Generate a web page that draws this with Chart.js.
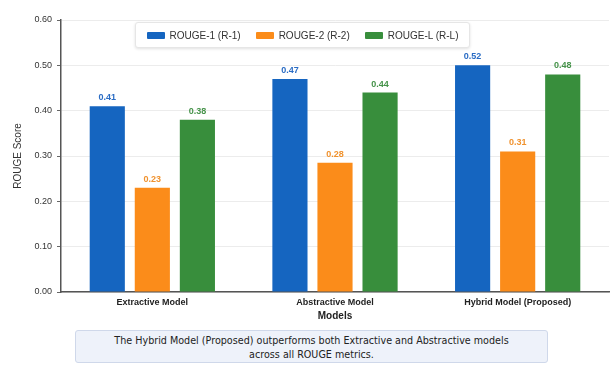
<!DOCTYPE html>
<html>
<head>
<meta charset="utf-8">
<script src="https://cdn.jsdelivr.net/npm/chart.js@4/dist/chart.umd.min.js"></script>
<style>
  html, body { margin: 0; padding: 0; background: #fff; }
  body { width: 611px; height: 370px; position: relative; overflow: hidden;
         font-family: "Liberation Sans", Arial, sans-serif; }
  #wrap { position: absolute; left: 0; top: 0; width: 611px; height: 322px; }
  #legend { position: absolute; left: 135px; top: 22px; width: 335px; height: 26px;
            background: #fff; border: 1px solid #e6e6e6; border-radius: 3px;
            box-shadow: 0 1px 3px rgba(0,0,0,0.12); box-sizing: border-box;
            display: flex; align-items: center; justify-content: center; gap: 15px;
            font-size: 10px; color: #333; }
  #legend .item { display: flex; align-items: center; }
  #legend .swatch { width: 18px; height: 7px; border-radius: 1px; margin-right: 5px; }
  #note { position: absolute; left: 75px; top: 330px; width: 473px; height: 33px;
          box-sizing: border-box; background: #eef2fa; border: 1px solid #cfd8ea;
          border-radius: 3px; color: #222; font-family: "DejaVu Sans", sans-serif;
          font-size: 9.6px; line-height: 14px; text-align: center; padding-top: 3px; }
</style>
</head>
<body>
<div id="wrap"><canvas id="chart"></canvas></div>
<div id="legend"></div>
<div id="note">The Hybrid Model (Proposed) outperforms both Extractive and Abstractive models<br>across all ROUGE metrics.</div>
<script>
const models = ["Extractive Model", "Abstractive Model", "Hybrid Model (Proposed)"];
const seriesNames = ["ROUGE-1 (R-1)", "ROUGE-2 (R-2)", "ROUGE-L (R-L)"];

// bar heights
const rouge1 = [0.41, 0.47, 0.50];
const rouge2 = [0.23, 0.285, 0.31];
const rougeL = [0.38, 0.44, 0.48];

// numbers printed above the bars
const rouge1Text = ["0.41", "0.47", "0.52"];
const rouge2Text = ["0.23", "0.28", "0.31"];
const rougeLText = ["0.38", "0.44", "0.48"];

const yTicks = [0, 0.1, 0.2, 0.3, 0.4, 0.5, 0.6];

const colors = ["#1565c0", "#fb8c1a", "#388e3c"];
const textColors = ["#2a6cc4", "#f0922e", "#46934a"];

// draws the value text above each bar
const barText = {
  id: "barText",
  afterDatasetsDraw(chart) {
    const ctx = chart.ctx;
    ctx.save();
    ctx.font = "bold 9px 'Liberation Sans', Arial, sans-serif";
    ctx.textAlign = "center";
    ctx.textBaseline = "bottom";
    chart.data.datasets.forEach((ds, i) => {
      chart.getDatasetMeta(i).data.forEach((bar, j) => {
        ctx.fillStyle = textColors[i];
        ctx.fillText(ds.printed[j], bar.x, bar.y - 4);
      });
    });
    ctx.restore();
  }
};

const datasets = [rouge1, rouge2, rougeL].map((values, i) => ({
  label: seriesNames[i],
  data: values,
  printed: [rouge1Text, rouge2Text, rougeLText][i],
  backgroundColor: colors[i],
  borderWidth: 0,
  categoryPercentage: 0.74,
  barPercentage: 0.78,
}));

const chart = new Chart(document.getElementById("chart"), {
  type: "bar",
  data: { labels: models, datasets },
  options: {
    responsive: true,
    maintainAspectRatio: false,
    animation: false,
    layout: { padding: { top: 20, right: 2, left: 0, bottom: 0 } },
    plugins: {
      legend: { display: false },
      tooltip: { enabled: false },
    },
    scales: {
      x: {
        grid: { display: false },
        border: { color: "#555", width: 1.5 },
        ticks: {
          color: "#222",
          padding: -3,
          font: { family: "'Liberation Sans', Arial, sans-serif", size: 9, weight: "bold" },
        },
        title: {
          display: true,
          text: "Models",
          color: "#222",
          padding: { top: 2, bottom: 0 },
          font: { family: "'Liberation Sans', Arial, sans-serif", size: 10, weight: "bold" },
        },
        afterFit(scale) { scale.height = 30; },
      },
      y: {
        min: 0,
        max: 0.6,
        afterBuildTicks(scale) { scale.ticks = yTicks.map(v => ({ value: v })); },
        grid: { color: "#ececec", tickColor: "#666", tickLength: 4 },
        border: { color: "#555", width: 1.5 },
        ticks: {
          color: "#333",
          padding: 5,
          font: { family: "'Liberation Sans', Arial, sans-serif", size: 9 },
          callback: (v) => v.toFixed(2),
        },
        title: {
          display: true,
          text: "ROUGE Score",
          color: "#333",
          padding: { top: 12, bottom: 0 },
          font: { family: "'Liberation Sans', Arial, sans-serif", size: 10 },
        },
        afterFit(scale) { scale.width = 61; },
      },
    },
  },
  plugins: [barText],
});

const legend = document.getElementById("legend");
chart.data.datasets.forEach((ds) => {
  const item = document.createElement("div");
  item.className = "item";
  const sw = document.createElement("span");
  sw.className = "swatch";
  sw.style.background = ds.backgroundColor;
  const label = document.createElement("span");
  label.textContent = ds.label;
  item.appendChild(sw);
  item.appendChild(label);
  legend.appendChild(item);
});
</script>
</body>
</html>
